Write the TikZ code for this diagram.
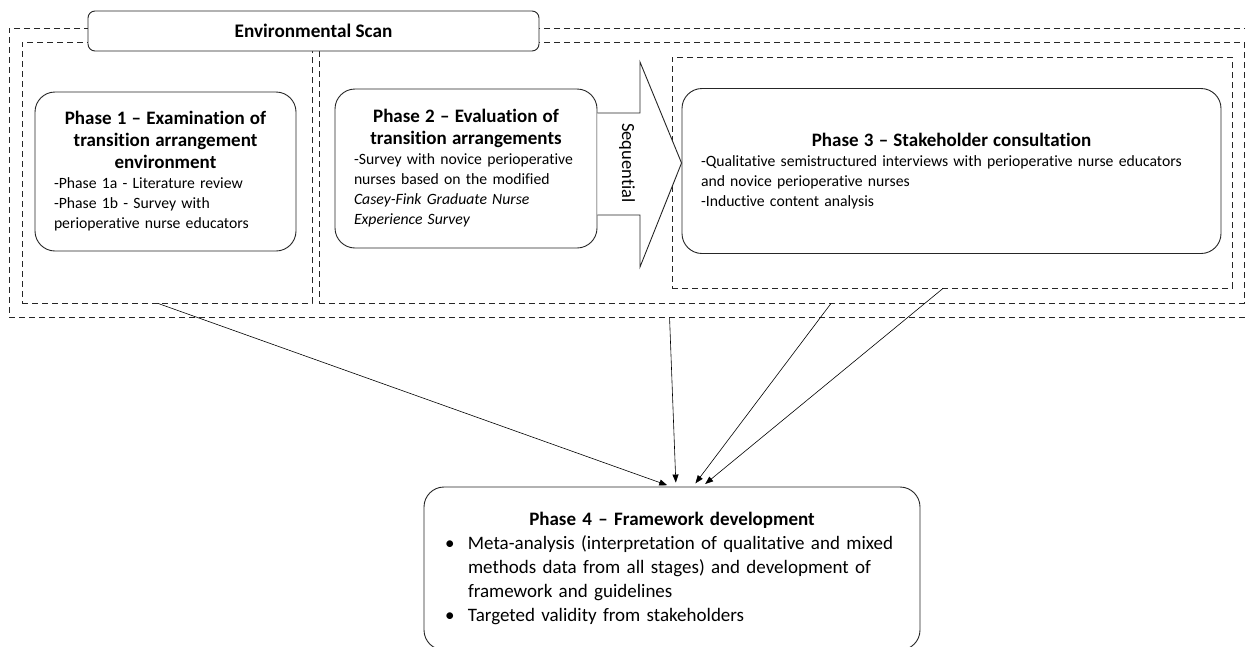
\documentclass[tikz,border=0pt]{standalone}
\usepackage{fontspec}
\setmainfont{Carlito}[Ligatures=NoCommon]
\usetikzlibrary{arrows.meta, positioning, calc}
\tikzset{
  area/.style={rectangle, draw=black!85, line width=0.8pt,
               dash pattern=on 6pt off 4pt, inner sep=0pt},
  phase/.style={rectangle, rounded corners=20pt, draw=black!85, fill=white,
                line width=0.9pt, inner xsep=19pt, inner ysep=0pt,
                font=\fontsize{15.7}{20}\selectfont, align=left},
  scanbox/.style={rectangle, rounded corners=7pt, draw=black!85, fill=white,
                  line width=0.9pt, minimum width=451pt, minimum height=40pt,
                  font=\fontsize{19.2}{22}\selectfont\bfseries},
  seqarrow/.style={draw=black!85, line width=0.9pt, fill=white, line join=miter},
  arr/.style={-{Triangle[length=8pt, width=6pt]}, line width=0.6pt, shorten >=4pt},
}
\newcommand{\phasehead}[1]{{\centering\bfseries\fontsize{19}{22}\selectfont #1\par}}
\newcommand{\bulletitem}[1]{\par\hangindent=23pt\hangafter=1\noindent
  \makebox[23pt][l]{\textbullet}#1\par}

\begin{document}
\begin{tikzpicture}[x=1pt, y=-1pt]
  \useasboundingbox (0,0) rectangle (1245,646);

  % dashed areas of the environmental scan
  \node[area, minimum width=1251pt, minimum height=289pt] (outer) at (634.5,172.5) {};
  \node[area, minimum width=290pt, minimum height=261pt] (area1) at (167,172.5) {};
  \node[area, minimum width=925pt, minimum height=261pt] (area2) at (781.5,172.5) {};
  \node[area, minimum width=560pt, minimum height=231pt] (area3) at (952,172.5) {};

  \node[scanbox] (scan) at (313.5,31) {Environmental Scan};

  % phases
  \node[phase, minimum width=261pt, minimum height=159pt, text width=223pt] (p1) at (165.5,171.5)
    {\phasehead{Phase 1 – Examination of\\ transition arrangement\\ environment}%
     -Phase 1a - Literature review\\ -Phase 1b - Survey with\\ perioperative nurse educators};
  \node[phase, minimum width=262pt, minimum height=159pt, text width=224pt] (p2) at (466,168.5)
    {\phasehead{Phase 2 – Evaluation of\\ transition arrangements}%
     -Survey with novice perioperative\\ nurses based on the modified\\
     \textit{Casey-Fink Graduate Nurse}\\ \textit{Experience Survey}};
  \node[phase, minimum width=539pt, minimum height=165pt, text width=501pt] (p3) at (951.5,171)
    {\phasehead{Phase 3 – Stakeholder consultation}%
     -Qualitative semistructured interviews with perioperative nurse educators\\
     and novice perioperative nurses\\ -Inductive content analysis};
  \node[phase, minimum width=496pt, minimum height=163pt, text width=454pt, inner xsep=21pt,
        font=\fontsize{19}{24}\selectfont] (p4) at (672,568.5)
    {\phasehead{Phase 4 – Framework development}%
     \bulletitem{Meta-analysis (interpretation of qualitative and mixed\newline
       methods data from all stages) and development of\newline framework and guidelines}
     \bulletitem{Targeted validity from stakeholders}};

  % sequential arrow
  \draw[seqarrow] (p2.east |- 0,113) -- (640,113) -- (640,62) -- (p3.west |- 0,163)
    -- (640,267) -- (640,215) -- (p2.east |- 0,215);
  \node[rotate=-90, font=\fontsize{18.5}{20}\selectfont] (seq) at (627,163) {Sequential};

  % into phase 4
  \draw[arr] ($(area1.south west)!0.469!(area1.south east)$) -- ($(p4.north west)!0.498!(p4.north east)$);
  \draw[arr] ($(outer.south west)!0.528!(outer.south east)$) -- ($(p4.north west)!0.508!(p4.north east)$);
  \draw[arr] ($(area2.south west)!0.5535!(area2.south east)$) -- ($(p4.north west)!0.5423!(p4.north east)$);
  \draw[arr] ($(area3.south west)!0.484!(area3.south east)$) -- ($(p4.north west)!0.5605!(p4.north east)$);
\end{tikzpicture}
\end{document}
